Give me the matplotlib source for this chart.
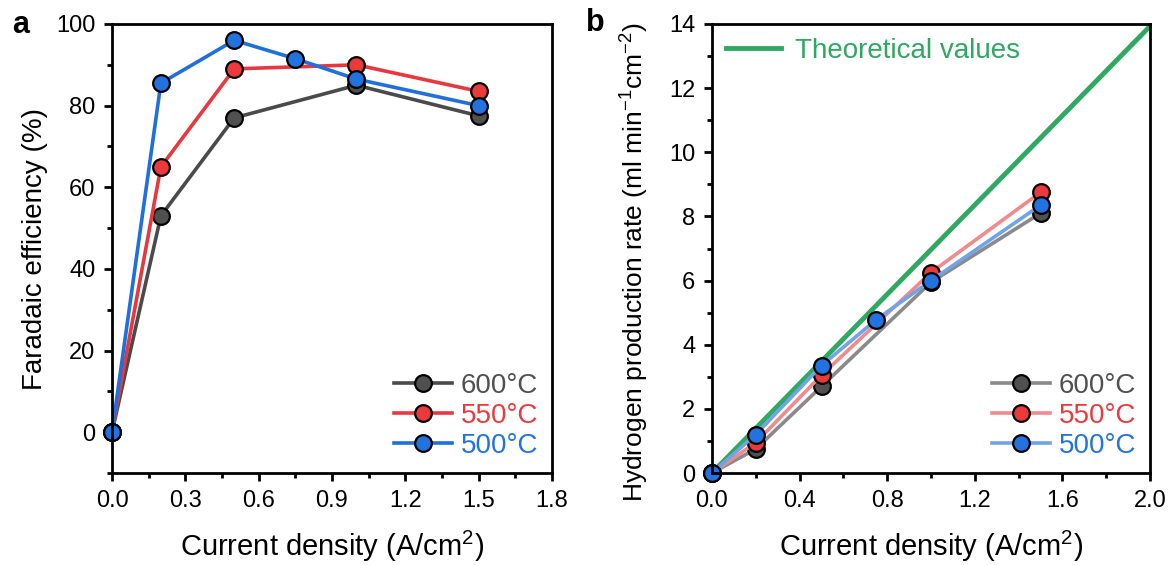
import matplotlib.pyplot as plt
from matplotlib.ticker import MultipleLocator

plt.rcParams['font.family'] = ['Liberation Sans', 'DejaVu Sans']
plt.rcParams['mathtext.default'] = 'regular'

# panel a: Faradaic efficiency
fe_x_600 = [0, 0.2, 0.5, 1.0, 1.5]
fe_y_600 = [0, 53, 77, 85, 77.5]
fe_x_550 = [0, 0.2, 0.5, 1.0, 1.5]
fe_y_550 = [0, 65, 89, 90, 83.5]
fe_x_500 = [0, 0.2, 0.5, 0.75, 1.0, 1.5]
fe_y_500 = [0, 85.5, 96, 91.5, 86.5, 80]

# panel b: hydrogen production rate
h_x_600 = [0, 0.2, 0.5, 1.0, 1.5]
h_y_600 = [0, 0.75, 2.7, 5.95, 8.1]
h_x_550 = [0, 0.2, 0.5, 1.0, 1.5]
h_y_550 = [0, 0.95, 3.05, 6.25, 8.75]
h_x_500 = [0, 0.2, 0.5, 0.75, 1.0, 1.5]
h_y_500 = [0, 1.2, 3.35, 4.78, 6.0, 8.35]
theo_x = [0, 2.0]
theo_y = [0, 13.93]

labels = ["600°C", "550°C", "500°C"]
line_cols = ["#4a4a4a", "#e8383d", "#1f6fdc"]
light_cols = ["#8a8a8a", "#f08a8c", "#6fa3ea"]
face_cols = ["#505050", "#ec3a3c", "#2272e0"]
green = "#2fa862"

fig = plt.figure(figsize=(11.72, 5.65), dpi=100)
ax1 = fig.add_axes([112 / 1172, 1 - 473 / 565, 440 / 1172, 449 / 565])
ax2 = fig.add_axes([712 / 1172, 1 - 473 / 565, 438 / 1172, 449 / 565])

mk = dict(marker="o", markersize=12, markeredgecolor="black", markeredgewidth=1.6)

for x, y, lab, lc, fc in zip([fe_x_600, fe_x_550, fe_x_500], [fe_y_600, fe_y_550, fe_y_500],
                             labels, line_cols, face_cols):
    ax1.plot(x, y, color=lc, lw=2.6, markerfacecolor=fc, label=lab, clip_on=False, **mk)

ax2.plot(theo_x, theo_y, color=green, lw=3.5, label="Theoretical values")
for x, y, lab, lc, fc in zip([h_x_600, h_x_550, h_x_500], [h_y_600, h_y_550, h_y_500],
                             labels, light_cols, face_cols):
    ax2.plot(x, y, color=lc, lw=2.6, markerfacecolor=fc, label=lab, clip_on=False, **mk)

ax1.set_xlim(0, 1.8)
ax1.set_ylim(-10, 100)
ax1.xaxis.set_major_locator(MultipleLocator(0.3))
ax1.xaxis.set_minor_locator(MultipleLocator(0.15))
ax1.yaxis.set_major_locator(MultipleLocator(20))
ax1.yaxis.set_minor_locator(MultipleLocator(10))
ax1.set_ylabel("Faradaic efficiency (%)", fontsize=20)
ax1.set_xlabel("Current density (A/cm$^2$)", fontsize=21, labelpad=12)
ax1.yaxis.set_label_coords(-0.145, 0.5)

ax2.set_xlim(0, 2.0)
ax2.set_ylim(0, 14)
ax2.xaxis.set_major_locator(MultipleLocator(0.4))
ax2.xaxis.set_minor_locator(MultipleLocator(0.2))
ax2.yaxis.set_major_locator(MultipleLocator(2))
ax2.yaxis.set_minor_locator(MultipleLocator(1))
ax2.set_ylabel("Hydrogen production rate (ml min$^{-1}$cm$^{-2}$)", fontsize=19)
ax2.set_xlabel("Current density (A/cm$^2$)", fontsize=21, labelpad=12)
ax2.yaxis.set_label_coords(-0.14, 0.47)

for ax in (ax1, ax2):
    for s in ax.spines.values():
        s.set_linewidth(2)
    ax.tick_params(which="major", direction="out", length=6, width=2, labelsize=17, pad=6)
    ax.tick_params(which="minor", direction="out", length=3.5, width=2)
    ax.tick_params(top=False, right=False, which="both")
    ax.xaxis.set_major_formatter(plt.FuncFormatter(lambda v, p: f"{v:.1f}"))

leg1 = ax1.legend(loc="lower right", frameon=False, fontsize=20, handlelength=2.1,
                  handletextpad=0.3, labelspacing=0.15, borderaxespad=0.1)
for t, c in zip(leg1.get_texts(), face_cols):
    t.set_color(c)

h = ax2.lines
legt = ax2.legend([h[0]], ["Theoretical values"], loc="upper left", frameon=False,
                  fontsize=20, handlelength=2.0, handletextpad=0.5, borderaxespad=0.1)
legt.get_texts()[0].set_color(green)
ax2.add_artist(legt)
leg2 = ax2.legend(h[1:], labels, loc="lower right", frameon=False, fontsize=20,
                  handlelength=2.1, handletextpad=0.3, labelspacing=0.15, borderaxespad=0.1)
for t, c in zip(leg2.get_texts(), face_cols):
    t.set_color(c)

fig.text(12 / 1172, 1 - 25 / 565, "a", fontsize=22, fontweight="bold", va="center")
fig.text(586 / 1172, 1 - 23 / 565, "b", fontsize=22, fontweight="bold", va="center")

fig.savefig("out.png", dpi=100)
